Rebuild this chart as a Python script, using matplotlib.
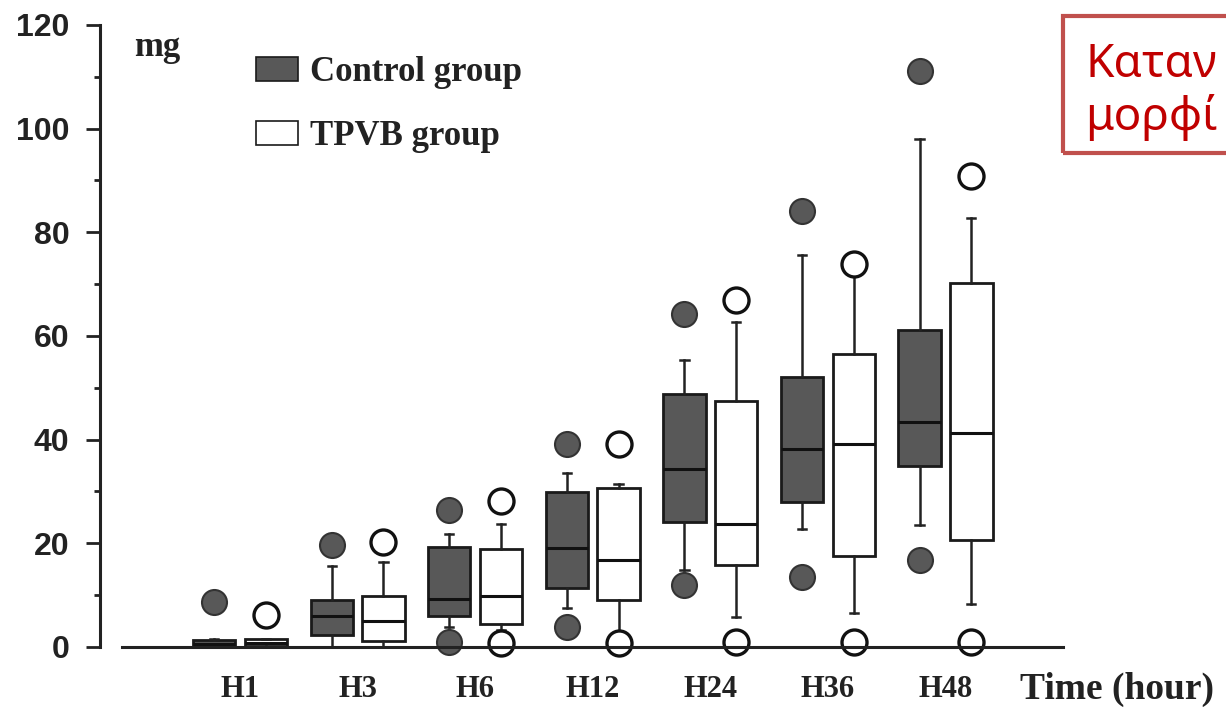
import numpy as np
import matplotlib.pyplot as plt
from matplotlib.patches import Patch, Rectangle

groups = ['H1', 'H3', 'H6', 'H12', 'H24', 'H36', 'H48']

# control group (mg)
control_whislo = [0.0, 0.0, 3.9, 7.5, 14.8, 22.8, 23.5]
control_q1 = [0.0, 2.4, 5.9, 11.3, 24.2, 27.9, 35.0]
control_med = [0.6, 5.9, 9.3, 19.0, 34.3, 38.2, 43.4]
control_q3 = [1.4, 9.0, 19.3, 29.9, 48.9, 52.0, 61.2]
control_whishi = [1.6, 15.7, 21.8, 33.6, 55.3, 75.7, 98.1]
control_out_hi = [8.7, 19.6, 26.5, 39.1, 64.2, 84.1, 111.2]
control_out_lo = [None, None, 1.0, 3.9, 12.0, 13.5, 16.8]

# TPVB group (mg)
tpvb_whislo = [0.0, 0.0, 3.2, 2.7, 5.8, 6.5, 8.2]
tpvb_q1 = [0.2, 1.2, 4.5, 9.1, 15.8, 17.5, 20.6]
tpvb_med = [0.8, 5.0, 9.8, 16.8, 23.7, 39.1, 41.3]
tpvb_q3 = [1.6, 9.8, 18.9, 30.6, 47.4, 56.6, 70.2]
tpvb_whishi = [1.6, 16.4, 23.8, 31.5, 62.7, 71.8, 82.8]
tpvb_out_hi = [6.1, 20.2, 28.1, 39.1, 66.9, 73.9, 90.9]
tpvb_out_lo = [None, None, 0.8, 0.8, 1.0, 1.0, 1.0]

yticks = [0, 20, 40, 60, 80, 100, 120]


def make_stats(wlo, q1, med, q3, whi, out_hi, out_lo):
    stats = []
    for i in range(len(med)):
        fl = [out_hi[i]]
        if out_lo[i] is not None:
            fl.append(out_lo[i])
        stats.append(dict(whislo=wlo[i], q1=q1[i], med=med[i], q3=q3[i],
                          whishi=whi[i], fliers=fl))
    return stats


fig = plt.figure(figsize=(12.26, 7.08), dpi=100)
ax = fig.add_axes([0.0816, 0.0862, 0.7855, 0.8785])

pos = np.arange(len(groups))
off = 0.22
bw = 0.36

dark = '#585858'

res_c = ax.bxp(make_stats(control_whislo, control_q1, control_med, control_q3,
                          control_whishi, control_out_hi, control_out_lo),
               positions=pos - off, widths=bw, patch_artist=True, capwidths=0.07,
               boxprops=dict(facecolor=dark, edgecolor='#1a1a1a', linewidth=2),
               medianprops=dict(color='#111111', linewidth=2.2),
               whiskerprops=dict(color='#222222', linewidth=1.8),
               capprops=dict(color='#222222', linewidth=1.8),
               flierprops=dict(marker='o', markersize=18, markerfacecolor=dark,
                               markeredgecolor='#333333', markeredgewidth=1.5))

res_t = ax.bxp(make_stats(tpvb_whislo, tpvb_q1, tpvb_med, tpvb_q3,
                          tpvb_whishi, tpvb_out_hi, tpvb_out_lo),
               positions=pos + off, widths=bw, patch_artist=True, capwidths=0.07,
               boxprops=dict(facecolor='white', edgecolor='#1a1a1a', linewidth=2),
               medianprops=dict(color='#111111', linewidth=2.2),
               whiskerprops=dict(color='#222222', linewidth=1.8),
               capprops=dict(color='#222222', linewidth=1.8),
               flierprops=dict(marker='o', markersize=18, markerfacecolor='white',
                               markeredgecolor='#111111', markeredgewidth=2.4))

for res in (res_c, res_t):
    for f in res['fliers']:
        f.set_clip_on(False)

ax.set_xlim(-1.19, 7.0)
ax.set_ylim(0, 120)
ax.spines['top'].set_visible(False)
ax.spines['right'].set_visible(False)
ax.spines['left'].set_linewidth(2.2)
ax.spines['bottom'].set_linewidth(2.2)
ax.spines['bottom'].set_bounds(-1.0, 7.0)
ax.spines['left'].set_color('#222222')
ax.spines['bottom'].set_color('#222222')

ax.set_yticks(yticks)
ax.set_yticks(np.arange(10, 120, 20), minor=True)
ax.tick_params(axis='y', which='major', length=10, width=2, pad=12,
               labelsize=23, colors='#222222')
ax.tick_params(axis='y', which='minor', length=4, width=2, colors='#222222')
for lab in ax.get_yticklabels():
    lab.set_family('Liberation Sans')
    lab.set_fontweight('bold')

ax.set_xticks(pos)
ax.set_xticklabels(groups, family='Liberation Serif', fontweight='bold', fontsize=22)
ax.tick_params(axis='x', length=0, pad=20, colors='#222222')

fig.text(134 / 1226, 1 - 48 / 708, 'mg', family='Liberation Serif',
         fontweight='bold', fontsize=25, va='center', ha='left', color='#222222')
fig.text(1020 / 1226, 1 - 689 / 708, 'Time (hour)', family='Liberation Serif',
         fontweight='bold', fontsize=27, va='center', ha='left', color='#222222')

handles = [Patch(facecolor=dark, edgecolor='#1a1a1a', linewidth=1.2, label='Control group'),
           Patch(facecolor='white', edgecolor='#1a1a1a', linewidth=1.2, label='TPVB group')]
fig.legend(handles=handles, loc='upper left', bbox_to_anchor=(256 / 1226, 1 - 56 / 708),
           frameon=False, borderpad=0, borderaxespad=0, handlelength=1.2,
           handleheight=0.7, handletextpad=0.35, labelspacing=0.9,
           prop=dict(family='Liberation Serif', weight='bold', size=25),
           labelcolor='#222222')

# annotation box on the right
fig.add_artist(Rectangle((1063 / 1226, 1 - 153 / 708), 0.2, 137 / 708,
                         transform=fig.transFigure, fill=False,
                         edgecolor='#c0504d', linewidth=3))
fig.text(1085 / 1226, 1 - 77 / 708, 'Καταν', family='Noto Sans',
         fontsize=33, color='#c00000', va='baseline', ha='left')
fig.text(1085 / 1226, 1 - 130 / 708, 'μορφί', family='Noto Sans',
         fontsize=33, color='#c00000', va='baseline', ha='left')

fig.savefig('out.png', dpi=100)
